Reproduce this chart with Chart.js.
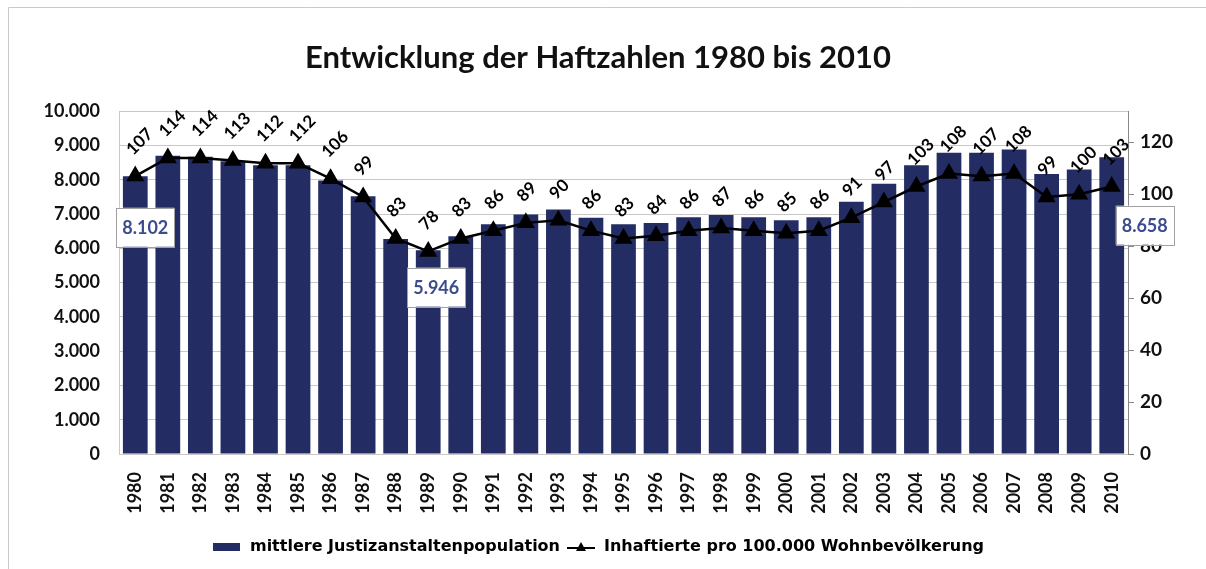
<!DOCTYPE html>
<html>
<head>
<meta charset="utf-8">
<script src="https://cdn.jsdelivr.net/npm/chart.js@4"></script>
<style>
    html, body { margin: 0; padding: 0; background: #ffffff; }
    #wrap { width: 1206px; height: 569px; }
</style>
</head>
<body>
<div id="wrap"><canvas id="chart" width="1206" height="569"></canvas></div>
<script>
// Data
const years = ['1980', '1981', '1982', '1983', '1984', '1985', '1986', '1987', '1988', '1989',
    '1990', '1991', '1992', '1993', '1994', '1995', '1996', '1997', '1998', '1999',
    '2000', '2001', '2002', '2003', '2004', '2005', '2006', '2007', '2008', '2009', '2010'];

const population = [8102, 8700, 8670, 8540, 8420, 8420, 7980, 7520, 6270, 5946,
    6350, 6700, 6990, 7130, 6890, 6700, 6740, 6910, 6970, 6910,
    6820, 6910, 7360, 7880, 8420, 8790, 8790, 8880, 8170, 8300, 8658];

const perHundredThousand = [107, 114, 114, 113, 112, 112, 106, 99, 83, 78,
    83, 86, 89, 90, 86, 83, 84, 86, 87, 86,
    85, 86, 91, 97, 103, 108, 107, 108, 99, 100, 103];

// bars that carry a boxed value label
const boxedYears = ['1980', '1989', '2010'];

const fontFamily = 'Lato, "Open Sans", sans-serif';
const legendFont = '"DejaVu Sans", sans-serif';
const barColor = '#232d63';

// German thousands separator
function formatDe(v) {
    return v.toLocaleString('de-DE');
}

// Small images for the legend markers
function makeBarMarker() {
    const c = document.createElement('canvas');
    c.width = 27; c.height = 10;
    const g = c.getContext('2d');
    g.fillStyle = barColor;
    g.fillRect(0, 1, 27, 8);
    return c;
}

function makeLineMarker() {
    const c = document.createElement('canvas');
    c.width = 28; c.height = 12;
    const g = c.getContext('2d');
    g.strokeStyle = '#000';
    g.lineWidth = 2;
    g.beginPath();
    g.moveTo(0, 7); g.lineTo(28, 7);
    g.stroke();
    g.fillStyle = '#000';
    g.beginPath();
    g.moveTo(14, 1); g.lineTo(19, 10); g.lineTo(9, 10);
    g.closePath();
    g.fill();
    return c;
}

// Frame around the chart
const framePlugin = {
    id: 'frame',
    beforeDraw(chart) {
        const ctx = chart.ctx;
        ctx.save();
        ctx.fillStyle = '#ffffff';
        ctx.fillRect(0, 0, chart.width, chart.height);
        ctx.strokeStyle = '#c9c9c9';
        ctx.lineWidth = 1;
        ctx.beginPath();
        ctx.moveTo(8.5, chart.height);
        ctx.lineTo(8.5, 7.5);
        ctx.lineTo(chart.width, 7.5);
        ctx.stroke();
        ctx.restore();
    }
};

// Rotated value labels above the line points, boxed labels in some bars
const labelPlugin = {
    id: 'valueLabels',
    afterDatasetsDraw(chart) {
        const ctx = chart.ctx;
        ctx.save();

        // line labels
        const lineMeta = chart.getDatasetMeta(1);
        ctx.font = 'bold 17px ' + fontFamily;
        ctx.fillStyle = '#000';
        ctx.textAlign = 'left';
        ctx.textBaseline = 'middle';
        lineMeta.data.forEach((pt, i) => {
            ctx.save();
            ctx.translate(pt.x - 6, pt.y - 24);
            ctx.rotate(-Math.PI / 4);
            ctx.fillText(String(perHundredThousand[i]), 0, 0);
            ctx.restore();
        });

        // boxed bar labels
        const barMeta = chart.getDatasetMeta(0);
        const shift = { '1980': [10, 51], '1989': [8, 37], '2010': [33, 68] };
        ctx.font = 'bold 18px ' + fontFamily;
        ctx.textAlign = 'center';
        boxedYears.forEach(year => {
            const i = years.indexOf(year);
            const bar = barMeta.data[i];
            const cx = bar.x + shift[year][0];
            const cy = bar.y + shift[year][1];
            const w = 58, h = 39;
            ctx.fillStyle = '#ffffff';
            ctx.fillRect(cx - w / 2, cy - h / 2, w, h);
            ctx.strokeStyle = '#a0a0a0';
            ctx.lineWidth = 1;
            ctx.strokeRect(Math.round(cx - w / 2) + 0.5, Math.round(cy - h / 2) + 0.5, w, h);
            ctx.fillStyle = '#3d4c8c';
            ctx.fillText(formatDe(population[i]), cx, cy + 1);
        });

        ctx.restore();
    }
};

const ctx = document.getElementById('chart').getContext('2d');
new Chart(ctx, {
    data: {
        labels: years,
        datasets: [
            {
                type: 'bar',
                label: 'mittlere Justizanstaltenpopulation',
                data: population,
                backgroundColor: barColor,
                borderWidth: 0,
                barPercentage: 0.76,
                categoryPercentage: 1.0,
                yAxisID: 'y',
                order: 2
            },
            {
                type: 'line',
                label: 'Inhaftierte pro 100.000 Wohnbevölkerung',
                data: perHundredThousand,
                borderColor: '#000',
                backgroundColor: '#000',
                borderWidth: 2.5,
                tension: 0,
                pointStyle: 'triangle',
                pointRadius: 8,
                pointBackgroundColor: '#000',
                pointBorderColor: '#000',
                yAxisID: 'y1',
                order: 1
            }
        ]
    },
    options: {
        responsive: false,
        animation: false,
        devicePixelRatio: 1,
        layout: { padding: { left: 20, right: 30, top: 0, bottom: 4 } },
        plugins: {
            title: {
                display: true,
                text: 'Entwicklung der Haftzahlen 1980 bis 2010',
                color: '#111',
                font: { family: fontFamily, size: 31, weight: 'bold', lineHeight: 1.2 },
                padding: { top: 39, bottom: 35 }
            },
            legend: {
                position: 'bottom',
                labels: {
                    color: '#222',
                    font: { family: legendFont, size: 16, weight: 'bold' },
                    usePointStyle: true,
                    pointStyleWidth: 30,
                    padding: 6,
                    generateLabels(chart) {
                        return [
                            { text: 'mittlere Justizanstaltenpopulation', pointStyle: makeBarMarker(), datasetIndex: 0, lineWidth: 0 },
                            { text: 'Inhaftierte pro 100.000 Wohnbevölkerung', pointStyle: makeLineMarker(), datasetIndex: 1, lineWidth: 0 }
                        ];
                    }
                }
            },
            tooltip: { enabled: false }
        },
        scales: {
            x: {
                grid: { display: false },
                border: { display: false },
                ticks: {
                    color: '#111',
                    font: { family: fontFamily, size: 18, weight: 'bold' },
                    minRotation: 90,
                    maxRotation: 90,
                    autoSkip: false,
                    padding: 10
                },
                afterFit(scale) { scale.height = 79; }
            },
            y: {
                position: 'left',
                min: 0,
                max: 10000,
                grid: { color: '#c8c8c8', drawTicks: false },
                border: { display: true, color: '#c8c8c8' },
                ticks: {
                    stepSize: 1000,
                    color: '#111',
                    font: { family: fontFamily, size: 18, weight: 'bold' },
                    padding: 19,
                    callback: v => formatDe(v)
                },
                afterFit(scale) { scale.width = 99; }
            },
            y1: {
                position: 'right',
                min: 0,
                max: 132,
                grid: { drawOnChartArea: false, color: '#888', tickLength: 6 },
                border: { display: true, color: '#888' },
                ticks: {
                    stepSize: 20,
                    color: '#111',
                    font: { family: fontFamily, size: 19, weight: 'bold' },
                    padding: 6,
                    callback: v => (v % 20 === 0 ? v : null)
                },
                afterFit(scale) { scale.width = 48; }
            }
        }
    },
    plugins: [framePlugin, labelPlugin]
});
</script>
</body>
</html>
